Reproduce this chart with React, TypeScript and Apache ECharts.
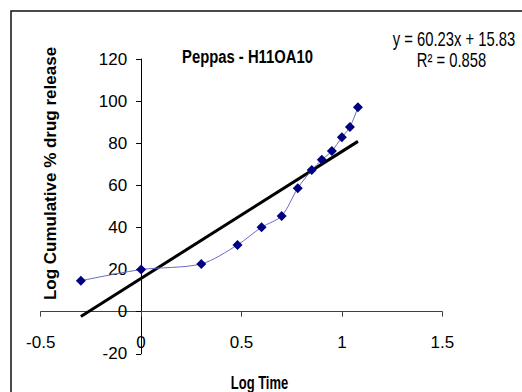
import React, { useEffect, useRef } from "react";
import * as echarts from "echarts";

const logTime = [-0.3, 0, 0.3, 0.48, 0.6, 0.7, 0.78, 0.85, 0.9, 0.95, 1.0, 1.04, 1.08];
const logRelease = [14.7, 20.0, 22.7, 31.7, 40.1, 45.5, 58.6, 67.3, 72.1, 76.3, 82.8, 87.7, 97.1];
const trendX = [-0.3, 1.08];
const trendY = [-2.24, 80.88];
const titleText = "Peppas - H11OA10";
const equationText = "y = 60.23x + 15.83";
const r2Text = "R² = 0.858";
const xTitle = "Log Time";
const yTitle = "Log Cumulative % drug release";

const SANS = "'Liberation Sans', Arial, sans-serif";

const GRID_LEFT = 40.7;
const GRID_TOP = 59;
const GRID_RIGHT = 79.7;
const GRID_BOTTOM = 38.2;
const W = 522;
const H = 392;
const plotW = W - GRID_LEFT - GRID_RIGHT;
const plotH = H - GRID_TOP - GRID_BOTTOM;
// offsets to put axes at the zero crossings (x=0 of [-0.5,1.5], y=0 of [-20,120])
const yAxisOffset = -plotW * (0.5 / 2);
const xAxisOffset = -plotH * (20 / 140);

function txt(text: string, x: number, y: number, font: string, scaleX = 1, rotation = 0) {
  return {
    type: "text",
    x,
    y,
    scaleX,
    rotation,
    style: {
      text,
      font,
      fill: "#000",
      textAlign: "center",
      textVerticalAlign: "middle",
      align: "center",
      verticalAlign: "middle",
    },
  };
}

export default function App() {
  const ref = useRef<HTMLDivElement>(null);
  useEffect(() => {
    if (!ref.current) return;
    const chart = echarts.init(ref.current, undefined, { renderer: "svg" });
    chart.setOption({
      animation: false,
      backgroundColor: "#ffffff",
      grid: {
        left: GRID_LEFT,
        top: GRID_TOP,
        right: GRID_RIGHT,
        bottom: GRID_BOTTOM,
        containLabel: false,
        outerBoundsMode: "none",
      },
      xAxis: {
        type: "value",
        position: "bottom",
        offset: xAxisOffset,
        min: -0.5,
        max: 1.5,
        interval: 0.5,
        splitLine: { show: false },
        axisLine: { show: true, onZero: false, lineStyle: { color: "#404040", width: 1 } },
        axisTick: { show: true, inside: false, length: 5, lineStyle: { color: "#404040" } },
        axisLabel: { fontFamily: SANS, fontSize: 17, color: "#000", margin: 22 },
      },
      yAxis: {
        type: "value",
        position: "left",
        offset: yAxisOffset,
        min: -20,
        max: 120,
        interval: 20,
        splitLine: { show: false },
        axisLine: { show: true, onZero: false, lineStyle: { color: "#000", width: 1 } },
        axisTick: { show: true, inside: false, length: 5, lineStyle: { color: "#000" } },
        axisLabel: { fontFamily: SANS, fontSize: 17, color: "#000", margin: 14 },
      },
      series: [
        {
          type: "line",
          data: trendX.map((x, i) => [x, trendY[i]]),
          showSymbol: false,
          symbol: "none",
          lineStyle: { color: "#000", width: 3 },
          z: 2,
        },
        {
          type: "line",
          data: logTime.map((x, i) => [x, logRelease[i]]),
          smooth: 0.3,
          symbol: "diamond",
          symbolSize: 10,
          itemStyle: { color: "#000080" },
          lineStyle: { color: "#6a6ac0", width: 1 },
          z: 3,
        },
      ],
      graphic: [
        {
          type: "rect",
          shape: { x: 11, y: 11, width: 600, height: 500 },
          style: { fill: "none", stroke: "#111", lineWidth: 1.5 },
          silent: true,
        },
        txt(titleText, 247.5, 57, `bold 19px ${SANS}`, 0.78),
        txt(equationText, 454, 39, `20px ${SANS}`, 0.74),
        txt(r2Text, 451.5, 60, `20px ${SANS}`, 0.74),
        txt(xTitle, 259.5, 383, `bold 18px ${SANS}`, 0.72),
        txt(yTitle, 50, 173.5, `bold 17px ${SANS}`, 1, Math.PI / 2),
      ],
    });
    return () => chart.dispose();
  }, []);
  return (
    <div
      ref={ref}
      style={{ position: "fixed", left: 0, top: 0, width: W, height: H, background: "#fff" }}
    />
  );
}
